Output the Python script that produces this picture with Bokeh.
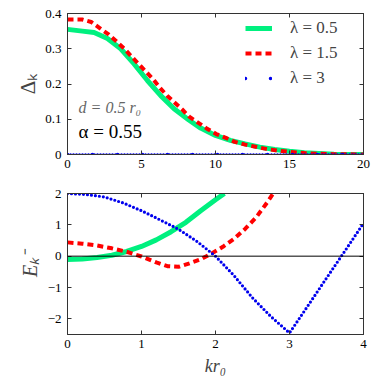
from bokeh.plotting import figure
from bokeh.models import (Range1d, LinearAxis, FixedTicker, Legend, LegendItem,
                          Label, Span)
from bokeh.layouts import column
from bokeh.embed import file_html
from bokeh.resources import INLINE

# ---------------- data ----------------
# top panel: gap Delta_k vs k r0
k_top_l05 = [0, 1, 1.8, 2.7, 3.6, 4.5, 5.4, 6.3, 7.2, 8.2, 9, 10, 11, 12, 13, 14, 15, 16, 17, 18, 20]
delta_l05 = [0.355, 0.350, 0.346, 0.329, 0.300, 0.257, 0.210, 0.167, 0.130, 0.098, 0.075, 0.054,
             0.040, 0.030, 0.021, 0.014, 0.009, 0.005, 0.003, 0.001, 0.0]
k_top_l15 = [0, 1, 1.6, 2.2, 2.8, 3.3, 3.85, 4.3, 4.8, 5.3, 5.8, 6.25, 6.75, 7.25, 7.75, 8.2, 9.4,
             10.05, 10.7, 11.3, 12, 12.7, 13.4, 14.2, 14.9, 16, 17, 18, 20]
delta_l15 = [0.383, 0.383, 0.376, 0.358, 0.340, 0.321, 0.300, 0.279, 0.257, 0.235, 0.213, 0.189,
             0.166, 0.147, 0.128, 0.108, 0.074, 0.058, 0.047, 0.036, 0.028, 0.022, 0.016, 0.011,
             0.008, 0.004, 0.002, 0.001, 0.0]
k_top_l3 = [0, 20]
delta_l3 = [0.0, 0.0]

# bottom panel: E_k^- vs k r0
k_bot_l05 = [0, 0.2, 0.4, 0.6, 0.8, 1.0, 1.2, 1.4, 1.6, 1.8, 2.0, 2.12]
e_l05 = [-0.11, -0.09, -0.04, 0.03, 0.15, 0.31, 0.52, 0.78, 1.08, 1.45, 1.80, 2.0]
k_bot_l15 = [0, 0.2, 0.4, 0.6, 0.8, 1.0, 1.2, 1.35, 1.5, 1.65, 1.8, 1.95, 2.1, 2.25, 2.4, 2.55, 2.7, 2.78]
e_l15 = [0.44, 0.40, 0.34, 0.25, 0.14, -0.01, -0.20, -0.32, -0.34, -0.23, -0.10, 0.09, 0.30, 0.55,
         0.87, 1.24, 1.72, 2.0]
k_bot_l3 = [0, 0.25, 0.5, 0.75, 1.0, 1.25, 1.5, 1.75, 2.0, 2.25, 2.5, 2.75, 3.0, 3.25, 3.5, 3.75, 4.0]
e_l3 = [2.0, 1.97, 1.89, 1.70, 1.45, 1.16, 0.86, 0.47, 0.0, -0.62, -1.33, -1.93, -2.45, -1.58,
        -0.70, 0.17, 1.05]

legend_labels = ["λ = 0.5", "λ = 1.5", "λ = 3"]
top_xticks = [0, 5, 10, 15, 20]
top_yticks = [0.0, 0.1, 0.2, 0.3, 0.4]
bot_xticks = [0, 1, 2, 3, 4]
bot_yticks = [-2, -1, 0, 1, 2]

GREEN = "#00f07f"
RED = "#ff0000"
BLUE = "#0000ee"
SERIF = "Liberation Serif"
AXC = "#333333"


def style(p, xticks, yticks):
    xb = p.below[0]
    yl = p.left[0]
    p.grid.visible = False
    p.outline_line_color = AXC
    xb.ticker = FixedTicker(ticks=xticks)
    yl.ticker = FixedTicker(ticks=yticks)
    for ax in (xb, yl):
        ax.major_tick_in = 4
        ax.major_tick_out = 0
        ax.minor_tick_line_color = None
        ax.axis_line_color = AXC
        ax.major_tick_line_color = AXC
        ax.major_label_text_font = SERIF
        ax.major_label_text_font_size = "13px"
        ax.major_label_text_color = "black"
        ax.axis_label_text_font = SERIF
    xb.major_label_standoff = 5
    yl.major_label_standoff = 6
    top = LinearAxis(ticker=FixedTicker(ticks=xticks), major_tick_in=4, major_tick_out=0,
                     minor_tick_line_color=None, axis_line_color=AXC, major_tick_line_color=AXC,
                     major_label_text_color=None, major_label_text_font_size="4px",
                     major_label_standoff=0)
    right = LinearAxis(ticker=FixedTicker(ticks=yticks), major_tick_in=4, major_tick_out=0,
                       minor_tick_line_color=None, axis_line_color=AXC, major_tick_line_color=AXC,
                       major_label_text_color=None, major_label_text_font_size="4px",
                       major_label_standoff=0)
    p.add_layout(top, "above")
    p.add_layout(right, "right")
    return xb, yl


# ---------------- top panel ----------------
p1 = figure(width=371, height=182, x_range=Range1d(0, 20), y_range=Range1d(0, 0.4),
            output_backend="svg", toolbar_location=None,
            min_border_left=67, min_border_right=8, min_border_top=13, min_border_bottom=28)
xb1, yl1 = style(p1, top_xticks, top_yticks)
yl1.axis_label = "Δₖ"
yl1.axis_label_text_font_style = "normal"
yl1.axis_label_text_font_size = "21px"
yl1.axis_label_standoff = 2

g1 = p1.line(k_top_l05, delta_l05, line_color=GREEN, line_width=5)
r1 = p1.line(k_top_l15, delta_l15, line_color=RED, line_width=4, line_dash="6 4")
b1 = p1.line(k_top_l3, delta_l3, line_color=BLUE, line_width=2.5, line_dash="0 3", line_cap="round")
# legend proxy for the dotted series (same data, wide dot spacing)
b1_leg = p1.line(k_top_l3, delta_l3, line_color=BLUE, line_width=3.5, line_dash="0 25",
                 line_cap="round")

legend = Legend(items=[LegendItem(label=legend_labels[0], renderers=[g1]),
                       LegendItem(label=legend_labels[1], renderers=[r1]),
                       LegendItem(label=legend_labels[2], renderers=[b1_leg])],
                location=(178, 66), padding=0, spacing=5, margin=0,
                glyph_width=27, glyph_height=20, label_height=20, label_standoff=18,
                border_line_color=None, background_fill_alpha=0,
                label_text_font=SERIF, label_text_font_size="17px")
p1.add_layout(legend)

p1.add_layout(Label(x=0.75, y=0.11, text="d = 0.5 r₀", text_font=SERIF,
                    text_font_style="italic", text_font_size="16px", text_color="#666666"))
p1.add_layout(Label(x=0.75, y=0.035, text="α = 0.55", text_font=SERIF,
                    text_font_size="19px", text_color="black"))

# ---------------- bottom panel ----------------
p2 = figure(width=371, height=196, x_range=Range1d(0, 4), y_range=Range1d(-2.5, 2),
            output_backend="svg", toolbar_location=None,
            min_border_left=67, min_border_right=8, min_border_top=11, min_border_bottom=44)
xb2, yl2 = style(p2, bot_xticks, bot_yticks)
yl2.major_label_overrides = {-2: "−2", -1: "−1"}
yl2.axis_label = "Eₖ⁻"
yl2.axis_label_text_font_size = "20px"
yl2.axis_label_standoff = 4
xb2.axis_label = "kr₀"
xb2.axis_label_text_font_size = "18px"
xb2.axis_label_standoff = 5

p2.add_layout(Span(location=0, dimension="width", line_color="black", line_width=1))
p2.line(k_bot_l05, e_l05, line_color=GREEN, line_width=5)
p2.line(k_bot_l15, e_l15, line_color=RED, line_width=4, line_dash="6 4")
p2.line(k_bot_l3, e_l3, line_color=BLUE, line_width=3.2, line_dash="0 4", line_cap="round")

layout = column(p1, p2, spacing=0)
open("out.html", "w").write(file_html(layout, INLINE))
